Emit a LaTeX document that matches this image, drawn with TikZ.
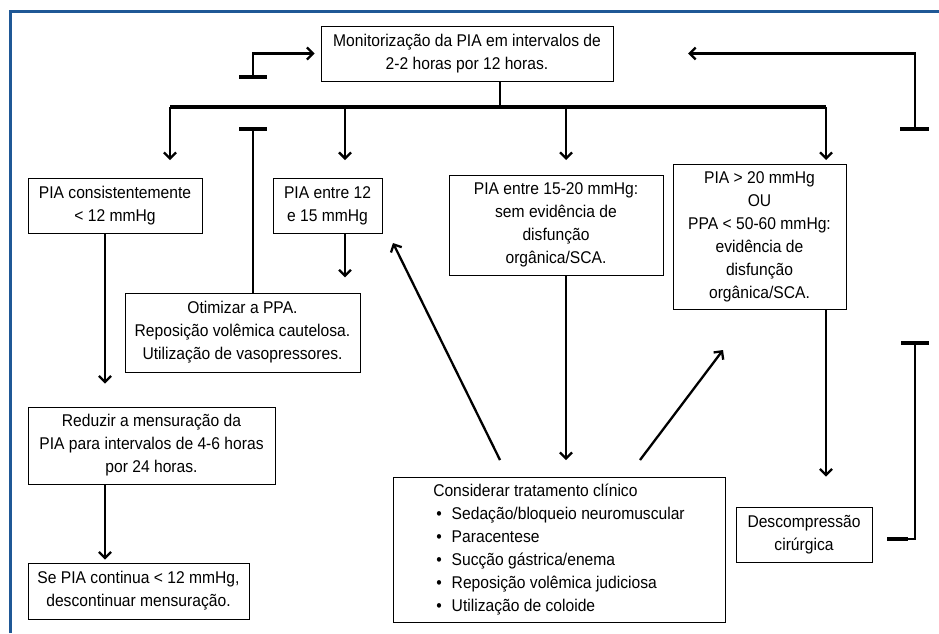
\documentclass[tikz,border=0pt]{standalone}
\usepackage{fontspec}
\setmainfont{Liberation Sans}[FakeStretch=0.92]
\usetikzlibrary{arrows.meta}
\definecolor{rahmenblau}{RGB}{31,88,150}

\begin{document}
\begin{tikzpicture}[x=1pt, y=-1pt,
		>={Straight Barb[length=6pt,width=12pt]},   %Pfeilspitzen
		box/.style={draw, line width=0.9pt, align=center, inner sep=0pt,
			font=\fontsize{17}{23}\selectfont},
		pfeil/.style={->, line width=2.3pt},
		linie/.style={line width=2.3pt},
		balken/.style={line width=4.5pt}]
		\useasboundingbox (0,0) rectangle (939,633);
		% Rahmen
		\draw[rahmenblau, line width=3pt] (10,633) -- (10,11) -- (939,11);
		% Kaesten
		\node[box, minimum width=292, minimum height=55] (mon) at (467,53.5)
			{Monitorização da PIA em intervalos de\\2-2 horas por 12 horas.};
		\node[box, minimum width=174, minimum height=55] (cons) at (115,205.5)
			{PIA consistentemente\\< 12 mmHg};
		\node[box, minimum width=109, minimum height=55] (pia12) at (327.5,205.5)
			{PIA entre 12\\e 15 mmHg};
		\node[box, minimum width=214, minimum height=100] (pia15) at (556,225)
			{PIA entre 15-20 mmHg:\\sem evidência de\\disfunção\\orgânica/SCA.};
		\node[box, minimum width=173, minimum height=145] (pia20) at (759.5,236.5)
			{PIA > 20 mmHg\\OU\\PPA < 50-60 mmHg:\\evidência de\\disfunção\\orgânica/SCA.};
		\node[box, minimum width=235, minimum height=79] (otim) at (242.5,332.5)
			{Otimizar a PPA.\\Reposição volêmica cautelosa.\\Utilização de vasopressores.};
		\node[box, minimum width=247, minimum height=77] (reduz) at (151.5,445.5)
			{Reduzir a mensuração da\\PIA para intervalos de 4-6 horas\\por 24 horas.};
		\node[box, minimum width=221, minimum height=56] (sepia) at (138.5,591)
			{Se PIA continua < 12 mmHg,\\descontinuar mensuração.};
		\node[box, align=left, minimum width=332, minimum height=145] (clin) at (559,549.5)
			{Considerar tratamento clínico\\
			\hspace*{3pt}\textbullet\hspace{10pt}Sedação/bloqueio neuromuscular\\
			\hspace*{3pt}\textbullet\hspace{10pt}Paracentese\\
			\hspace*{3pt}\textbullet\hspace{10pt}Sucção gástrica/enema\\
			\hspace*{3pt}\textbullet\hspace{10pt}Reposição volêmica judiciosa\\
			\hspace*{3pt}\textbullet\hspace{10pt}Utilização de coloide};
		\node[box, minimum width=136, minimum height=55] (desc) at (804,534.5)
			{Descompressão\\cirúrgica};
		% Hilfspunkte
		\coordinate (bus) at (500,107);
		\coordinate (hl) at (253,77);
		\coordinate (hm) at (253,129);
		\coordinate (hr) at (915,129);
		\coordinate (hu) at (915,343);
		\coordinate (zurueck) at (688,53.5);
		\coordinate (s1) at (170,160);
		\coordinate (s2) at (345,160);
		\coordinate (s3) at (566,160);
		\coordinate (s4) at (826,160);
		\coordinate (s0) at (105,160);
		\coordinate (k1) at (500,460);
		\coordinate (k3) at (640,460);
		\coordinate (z1) at (393,243);
		\coordinate (z3) at (723,350);
		% Verteiler
		\draw[linie] (mon.south -| bus) -- (bus);
		\draw[line width=3.2pt] (bus -| s1) -- (bus -| s4);
		\foreach \s in {s1,s2,s3,s4} \draw[pfeil] (bus -| \s) -- (\s);
		% Rueckkopplung oben
		\draw[pfeil, shorten >=6pt] (hl) |- (mon.west);
		\draw[balken] ([xshift=-14pt]hl) -- ([xshift=14pt]hl);
		\draw[pfeil] (hr) |- (zurueck);
		\draw[balken] ([xshift=-15pt]hr) -- ([xshift=14pt]hr);
		\draw[linie] (hm) -- (otim.north -| hm);
		\draw[balken] ([xshift=-14pt]hm) -- ([xshift=14pt]hm);
		% linker Zweig
		\draw[pfeil, shorten >=23pt] (cons.south -| s0) -- (reduz.north -| s0);
		\draw[pfeil, shorten >=3pt] (reduz.south -| s0) -- (sepia.north -| s0);
		\draw[pfeil] (pia12.south -| s2) -- ([yshift=-44pt]pia12.south -| s2);
		% Behandlung
		\draw[pfeil] (k1) -- (z1);
		\draw[pfeil] (pia15.south -| s3) -- (k1 -| s3);
		\draw[pfeil] (k3) -- (z3);
		\draw[pfeil] (pia20.south -| s4) -- ([yshift=30pt]desc.north -| s4);
		% Rueckkopplung unten
		\draw[linie] (hu) |- (905,539);
		\draw[balken] (887,539) -- (908,539);
		\draw[balken] ([xshift=-14pt]hu) -- ([xshift=14pt]hu);
	\end{tikzpicture}
\end{document}
